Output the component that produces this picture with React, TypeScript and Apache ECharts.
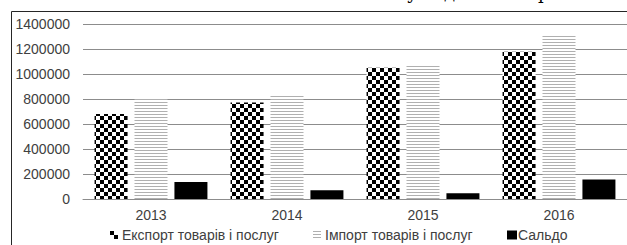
import React, { useEffect, useRef } from "react";
import * as echarts from "echarts";

const categories = ["2013", "2014", "2015", "2016"];
const exportValues = [680000, 772000, 1050000, 1178000];
const importValues = [808000, 830000, 1080000, 1315000];
const saldoValues = [136000, 70000, 46000, 157000];
const seriesNames = ["Експорт товарів і послуг", "Імпорт товарів і послуг", "Сальдо"];

function checker(): string {
  const c = document.createElement("canvas");
  c.width = 8;
  c.height = 8;
  const g = c.getContext("2d")!;
  g.fillStyle = "#ffffff";
  g.fillRect(0, 0, 8, 8);
  g.fillStyle = "#000000";
  g.fillRect(0, 0, 4, 4);
  g.fillRect(4, 4, 4, 4);
  return c.toDataURL();
}

function stripes(): string {
  const c = document.createElement("canvas");
  c.width = 4;
  c.height = 3;
  const g = c.getContext("2d")!;
  g.fillStyle = "#ffffff";
  g.fillRect(0, 0, 4, 3);
  g.fillStyle = "#b0b0b0";
  g.fillRect(0, 0, 4, 1);
  return c.toDataURL();
}

export default function App() {
  const ref = useRef<HTMLDivElement>(null);
  useEffect(() => {
    if (!ref.current) return;
    const chart = echarts.init(ref.current, undefined, { renderer: "svg" });
    const chk = { image: checker(), repeat: "repeat", imageWidth: 8, imageHeight: 8 } as any;
    const str = { image: stripes(), repeat: "repeat", imageWidth: 4, imageHeight: 3 } as any;
    const textStyle = { color: "#404040", fontSize: 14, fontFamily: "Liberation Sans, Arial, sans-serif" };
    const legendBase = {
      top: 228,
      padding: 0,
      icon: "rect",
      itemWidth: 8,
      itemHeight: 8,
      itemGap: 2,
      textStyle: { ...textStyle, padding: [0, 0, 0, -1] },
      selectedMode: false,
    };
    chart.setOption({
      animation: false,
      grid: { left: 83, right: -2, top: 24, bottom: 46, containLabel: false },
      legend: [
        { ...legendBase, left: 110, data: [seriesNames[0]] },
        { ...legendBase, left: 313, data: [seriesNames[1]] },
        { ...legendBase, left: 507, itemWidth: 10, itemHeight: 9, textStyle: { ...textStyle, padding: [0, 0, 0, -4] }, data: [seriesNames[2]] },
      ],
      xAxis: {
        type: "category",
        data: categories,
        axisTick: { show: false },
        axisLine: { lineStyle: { color: "#8c8c8c" } },
        axisLabel: { ...textStyle, margin: 9 },
      },
      yAxis: {
        type: "value",
        min: 0,
        max: 1400000,
        interval: 200000,
        axisLine: { show: false },
        axisTick: { show: false },
        splitLine: { lineStyle: { color: "#8c8c8c" } },
        axisLabel: { ...textStyle, margin: 13, formatter: (v: number) => String(v) },
      },
      graphic: [
        {
          type: "rect",
          silent: true,
          shape: { x: 11.5, y: 11.5, width: 700, height: 400 },
          style: { fill: "none", stroke: "#262626", lineWidth: 1 },
        },
        { type: "text", x: 407, y: 1, style: { text: "у", font: "18px 'DejaVu Serif', serif", fill: "#000", verticalAlign: "bottom" } },
        { type: "text", x: 444, y: 1, style: { text: "д", font: "18px 'DejaVu Serif', serif", fill: "#000", verticalAlign: "bottom" } },
        { type: "text", x: 538, y: 1, style: { text: "р", font: "18px 'DejaVu Serif', serif", fill: "#000", verticalAlign: "bottom" } },
      ],
      series: [
        { name: seriesNames[0], type: "bar", data: exportValues, barWidth: 33, barGap: "21%", itemStyle: { color: chk } },
        { name: seriesNames[1], type: "bar", data: importValues, barWidth: 33, barGap: "21%", itemStyle: { color: str } },
        { name: seriesNames[2], type: "bar", data: saldoValues, barWidth: 33, barGap: "21%", itemStyle: { color: "#000000" } },
      ],
    });
    return () => chart.dispose();
  }, []);
  return (
    <div
      ref={ref}
      style={{ position: "fixed", left: 0, top: 0, width: 627, height: 245, background: "#fff" }}
    />
  );
}
